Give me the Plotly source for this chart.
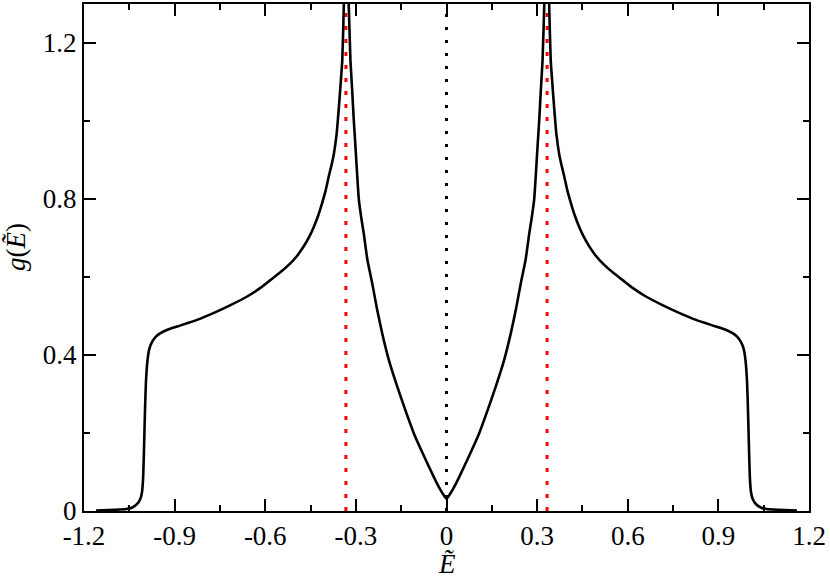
import plotly.graph_objects as go

# Density of states curve, left half then right half
energy = [
    -1.160, -1.100, -1.060, -1.040, -1.024, -1.014, -1.008, -1.004, -1.001,
    -0.998, -0.995, -0.990, -0.984, -0.975, -0.962, -0.947, -0.920, -0.880,
    -0.826, -0.770, -0.715, -0.660, -0.616, -0.583, -0.550, -0.517, -0.495,
    -0.473, -0.455, -0.439, -0.425, -0.412, -0.400, -0.390, -0.381, -0.373,
    -0.364, -0.357, -0.350, -0.345, -0.340, -0.336, -0.331, -0.3235, -0.318,
    -0.312, -0.307, -0.301, -0.296, -0.290, -0.281, -0.274, -0.262, -0.246,
    -0.230, -0.213, -0.190, -0.163, -0.135, -0.108, -0.080, -0.053, -0.035,
    -0.020, -0.008, 0.000,
    0.008, 0.020, 0.035, 0.053, 0.080, 0.108, 0.135, 0.163, 0.190, 0.213,
    0.230, 0.246, 0.262, 0.274, 0.281, 0.290, 0.296, 0.301, 0.307, 0.312,
    0.318, 0.3235, 0.331, 0.336, 0.340, 0.345, 0.350, 0.357, 0.364, 0.373,
    0.381, 0.390, 0.400, 0.412, 0.425, 0.439, 0.455, 0.473, 0.495, 0.517,
    0.550, 0.583, 0.616, 0.660, 0.715, 0.770, 0.826, 0.880, 0.920, 0.947,
    0.962, 0.975, 0.984, 0.990, 0.995, 0.998, 1.001, 1.004, 1.008, 1.014,
    1.024, 1.040, 1.060, 1.100, 1.160,
]
dos = [
    0.001, 0.003, 0.005, 0.009, 0.018, 0.030, 0.048, 0.090, 0.170,
    0.260, 0.330, 0.385, 0.415, 0.433, 0.447, 0.456, 0.466, 0.476,
    0.490, 0.508, 0.528, 0.550, 0.572, 0.592, 0.612, 0.635, 0.654,
    0.678, 0.702, 0.729, 0.757, 0.789, 0.822, 0.857, 0.886, 0.915,
    0.965, 1.028, 1.100, 1.156, 1.293, 1.450, 1.450, 1.293, 1.156,
    1.075, 1.003, 0.930, 0.866, 0.797, 0.746, 0.712, 0.645, 0.584,
    0.518, 0.456, 0.385, 0.319, 0.256, 0.199, 0.150, 0.105, 0.076,
    0.054, 0.039, 0.031,
    0.039, 0.054, 0.076, 0.105, 0.150, 0.199, 0.256, 0.319, 0.385, 0.456,
    0.518, 0.584, 0.645, 0.712, 0.746, 0.797, 0.866, 0.930, 1.003, 1.075,
    1.156, 1.293, 1.450, 1.450, 1.293, 1.156, 1.100, 1.028, 0.965, 0.915,
    0.886, 0.857, 0.822, 0.789, 0.757, 0.729, 0.702, 0.678, 0.654, 0.635,
    0.612, 0.592, 0.572, 0.550, 0.528, 0.508, 0.490, 0.476, 0.466, 0.456,
    0.447, 0.433, 0.415, 0.385, 0.330, 0.260, 0.170, 0.090, 0.048, 0.030,
    0.018, 0.009, 0.005, 0.003, 0.001,
]

# Vertical reference lines
vhs_x = [-0.333, 0.333]     # red dotted lines
center_x = [0.0]            # black dotted line
vline_y = [0.0, 1.3]

x_tickvals = [-1.2, -0.9, -0.6, -0.3, 0.0, 0.3, 0.6, 0.9, 1.2]
x_ticktext = ["-1.2", "-0.9", "-0.6", "-0.3", "0", "0.3", "0.6", "0.9", "1.2"]
y_tickvals = [0.0, 0.4, 0.8, 1.2]
y_ticktext = ["0", "0.4", "0.8", "1.2"]
x_title = "<i>Ẽ</i>"
y_title = "<i>g</i>(<i>Ẽ</i>)"

fig = go.Figure()

for vx in vhs_x:
    fig.add_trace(go.Scatter(
        x=[vx, vx], y=vline_y, mode="lines",
        line=dict(color="#ff0000", width=3, dash="4px,9px"),
        showlegend=False, hoverinfo="skip"))
for vx in center_x:
    fig.add_trace(go.Scatter(
        x=[vx, vx], y=vline_y, mode="lines",
        line=dict(color="black", width=3, dash="3px,10px"),
        showlegend=False, hoverinfo="skip"))

fig.add_trace(go.Scatter(
    x=energy, y=dos, mode="lines",
    line=dict(color="black", width=2.6, shape="spline", smoothing=0.5),
    showlegend=False))

font_family = "Liberation Serif, Times New Roman, serif"

fig.update_layout(
    width=830, height=576,
    margin=dict(l=84, r=21, t=4, b=65, autoexpand=False),
    paper_bgcolor="white", plot_bgcolor="white",
    font=dict(family=font_family, size=27, color="black"),
    xaxis=dict(
        range=[-1.2, 1.2], showgrid=False, zeroline=False,
        showline=True, linecolor="black", linewidth=2, mirror="ticks",
        ticks="inside", ticklen=12, tickwidth=2, tickcolor="black",
        tickvals=x_tickvals, ticktext=x_ticktext,
        tickfont=dict(family=font_family, size=27),
        minor=dict(ticks="inside", ticklen=6, tickwidth=2, tickcolor="black",
                   dtick=0.15, tick0=0, showgrid=False),
        automargin=False,
    ),
    yaxis=dict(
        range=[0, 1.3], showgrid=False, zeroline=False,
        showline=True, linecolor="black", linewidth=2, mirror="ticks",
        ticks="inside", ticklen=12, tickwidth=2, tickcolor="black",
        tickvals=y_tickvals, ticktext=y_ticktext,
        tickfont=dict(family=font_family, size=27),
        minor=dict(ticks="inside", ticklen=6, tickwidth=2, tickcolor="black",
                   dtick=0.2, tick0=0, showgrid=False),
        automargin=False,
    ),
    annotations=[
        dict(text=x_title, xref="paper", yref="paper", x=0.5, y=-0.071,
             xanchor="center", yanchor="top", showarrow=False,
             font=dict(family=font_family, size=27)),
        dict(text=y_title, xref="paper", yref="paper", x=-0.093, y=0.52,
             xanchor="center", yanchor="middle", textangle=-90, showarrow=False,
             font=dict(family=font_family, size=27)),
    ],
)

fig.write_html("out.html", config={"displayModeBar": False},
               post_script="document.body.style.margin='0';")
